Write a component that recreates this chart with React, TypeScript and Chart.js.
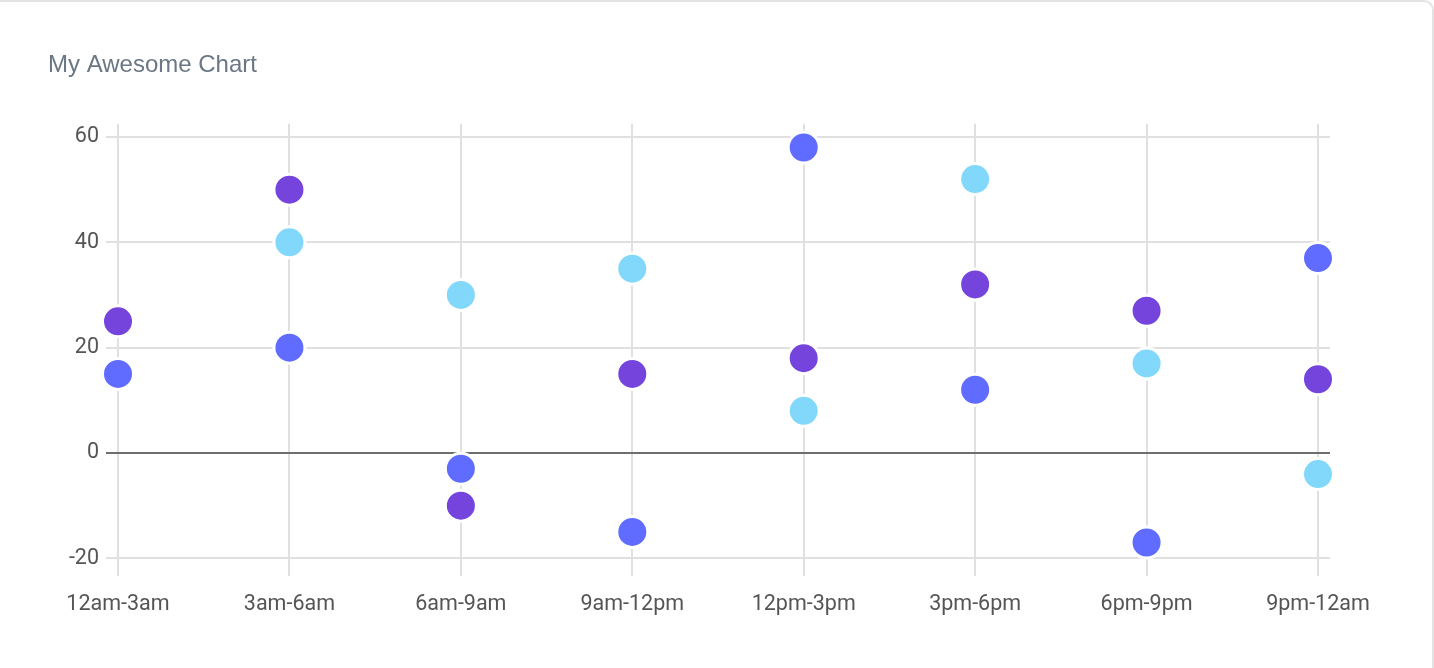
import { useEffect, useRef } from "react";
import { Chart, registerables } from "chart.js";
import type { ChartConfiguration } from "chart.js";

Chart.register(...registerables);

const slots = ["12am-3am", "3am-6am", "6am-9am", "9am-12pm", "12pm-3pm", "3pm-6pm", "6pm-9pm", "9pm-12am"];

// one value per time slot, null where no point is shown
const blueValues = [15, 20, -3, -15, 58, 12, -17, 37];
const purpleValues = [25, 50, -10, 15, 18, 32, 27, 14];
const skyValues = [null, 40, 30, 35, 8, 52, 17, -4];

const toPoints = (vals: (number | null)[]) =>
  vals.flatMap((v, i) => (v === null ? [] : [{ x: i, y: v }]));

export default function App() {
  const canvasRef = useRef<HTMLCanvasElement>(null);
  const chartRef = useRef<Chart | null>(null);

  useEffect(() => {
    if (!canvasRef.current) return;
    if (chartRef.current) chartRef.current.destroy();

    const dot = (color: string) => ({
      backgroundColor: color,
      borderColor: "#ffffff",
      borderWidth: 3,
      pointRadius: 15.5,
      pointHoverRadius: 15.5,
      showLine: false,
      clip: false as const,
    });

    const tickFont = { family: "Roboto", size: 21.5 };

    const config: ChartConfiguration<"scatter"> = {
      type: "scatter",
      data: {
        datasets: [
          { label: "A", data: toPoints(blueValues), ...dot("#5f6cff") },
          { label: "B", data: toPoints(purpleValues), ...dot("#7444dd") },
          { label: "C", data: toPoints(skyValues), ...dot("#81d8fa") },
        ],
      },
      options: {
        animation: false,
        responsive: true,
        maintainAspectRatio: false,
        layout: { padding: { left: 48, right: 104, top: 0, bottom: 34 } },
        plugins: {
          legend: { display: false },
          tooltip: { enabled: false },
          title: {
            display: true,
            text: "My Awesome Chart",
            align: "start",
            color: "#6b7785",
            font: { family: "'Liberation Sans', Arial, sans-serif", size: 24, weight: "normal" },
            padding: { top: 51, bottom: 44 },
          },
        },
        scales: {
          x: {
            type: "linear",
            min: 0,
            max: 7.07,
            border: { display: false },
            grid: { color: "#e0e0e0", lineWidth: 2, drawTicks: false },
            ticks: {
              stepSize: 1,
              includeBounds: false,
              autoSkip: false,
              maxRotation: 0,
              padding: 16,
              color: "#555555",
              font: tickFont,
              callback: (v) => slots[Number(v)] ?? "",
            },
          },
          y: {
            min: -23.4,
            max: 62.5,
            border: { display: false },
            afterFit: (s) => {
              s.width = 70;
            },
            grid: {
              color: (ctx) => (ctx.tick && ctx.tick.value === 0 ? "#6e6e6e" : "#e0e0e0"),
              lineWidth: 2,
              tickLength: 12,
            },
            ticks: {
              stepSize: 20,
              includeBounds: false,
              padding: 7,
              color: "#555555",
              font: tickFont,
            },
          },
        },
      },
    };

    chartRef.current = new Chart(canvasRef.current, config);
    return () => chartRef.current?.destroy();
  }, []);

  return (
    <div style={{ position: "fixed", left: 0, top: 0, width: 1434, height: 668, background: "#fff", overflow: "hidden" }}>
      <div
        style={{
          position: "absolute",
          left: -20,
          top: 0,
          width: 1454,
          height: 720,
          boxSizing: "border-box",
          border: "2px solid #e3e3e3",
          borderRadius: 10,
        }}
      />
      <div style={{ position: "absolute", left: 0, top: 0, width: 1434, height: 668 }}>
        <canvas ref={canvasRef} />
      </div>
    </div>
  );
}
